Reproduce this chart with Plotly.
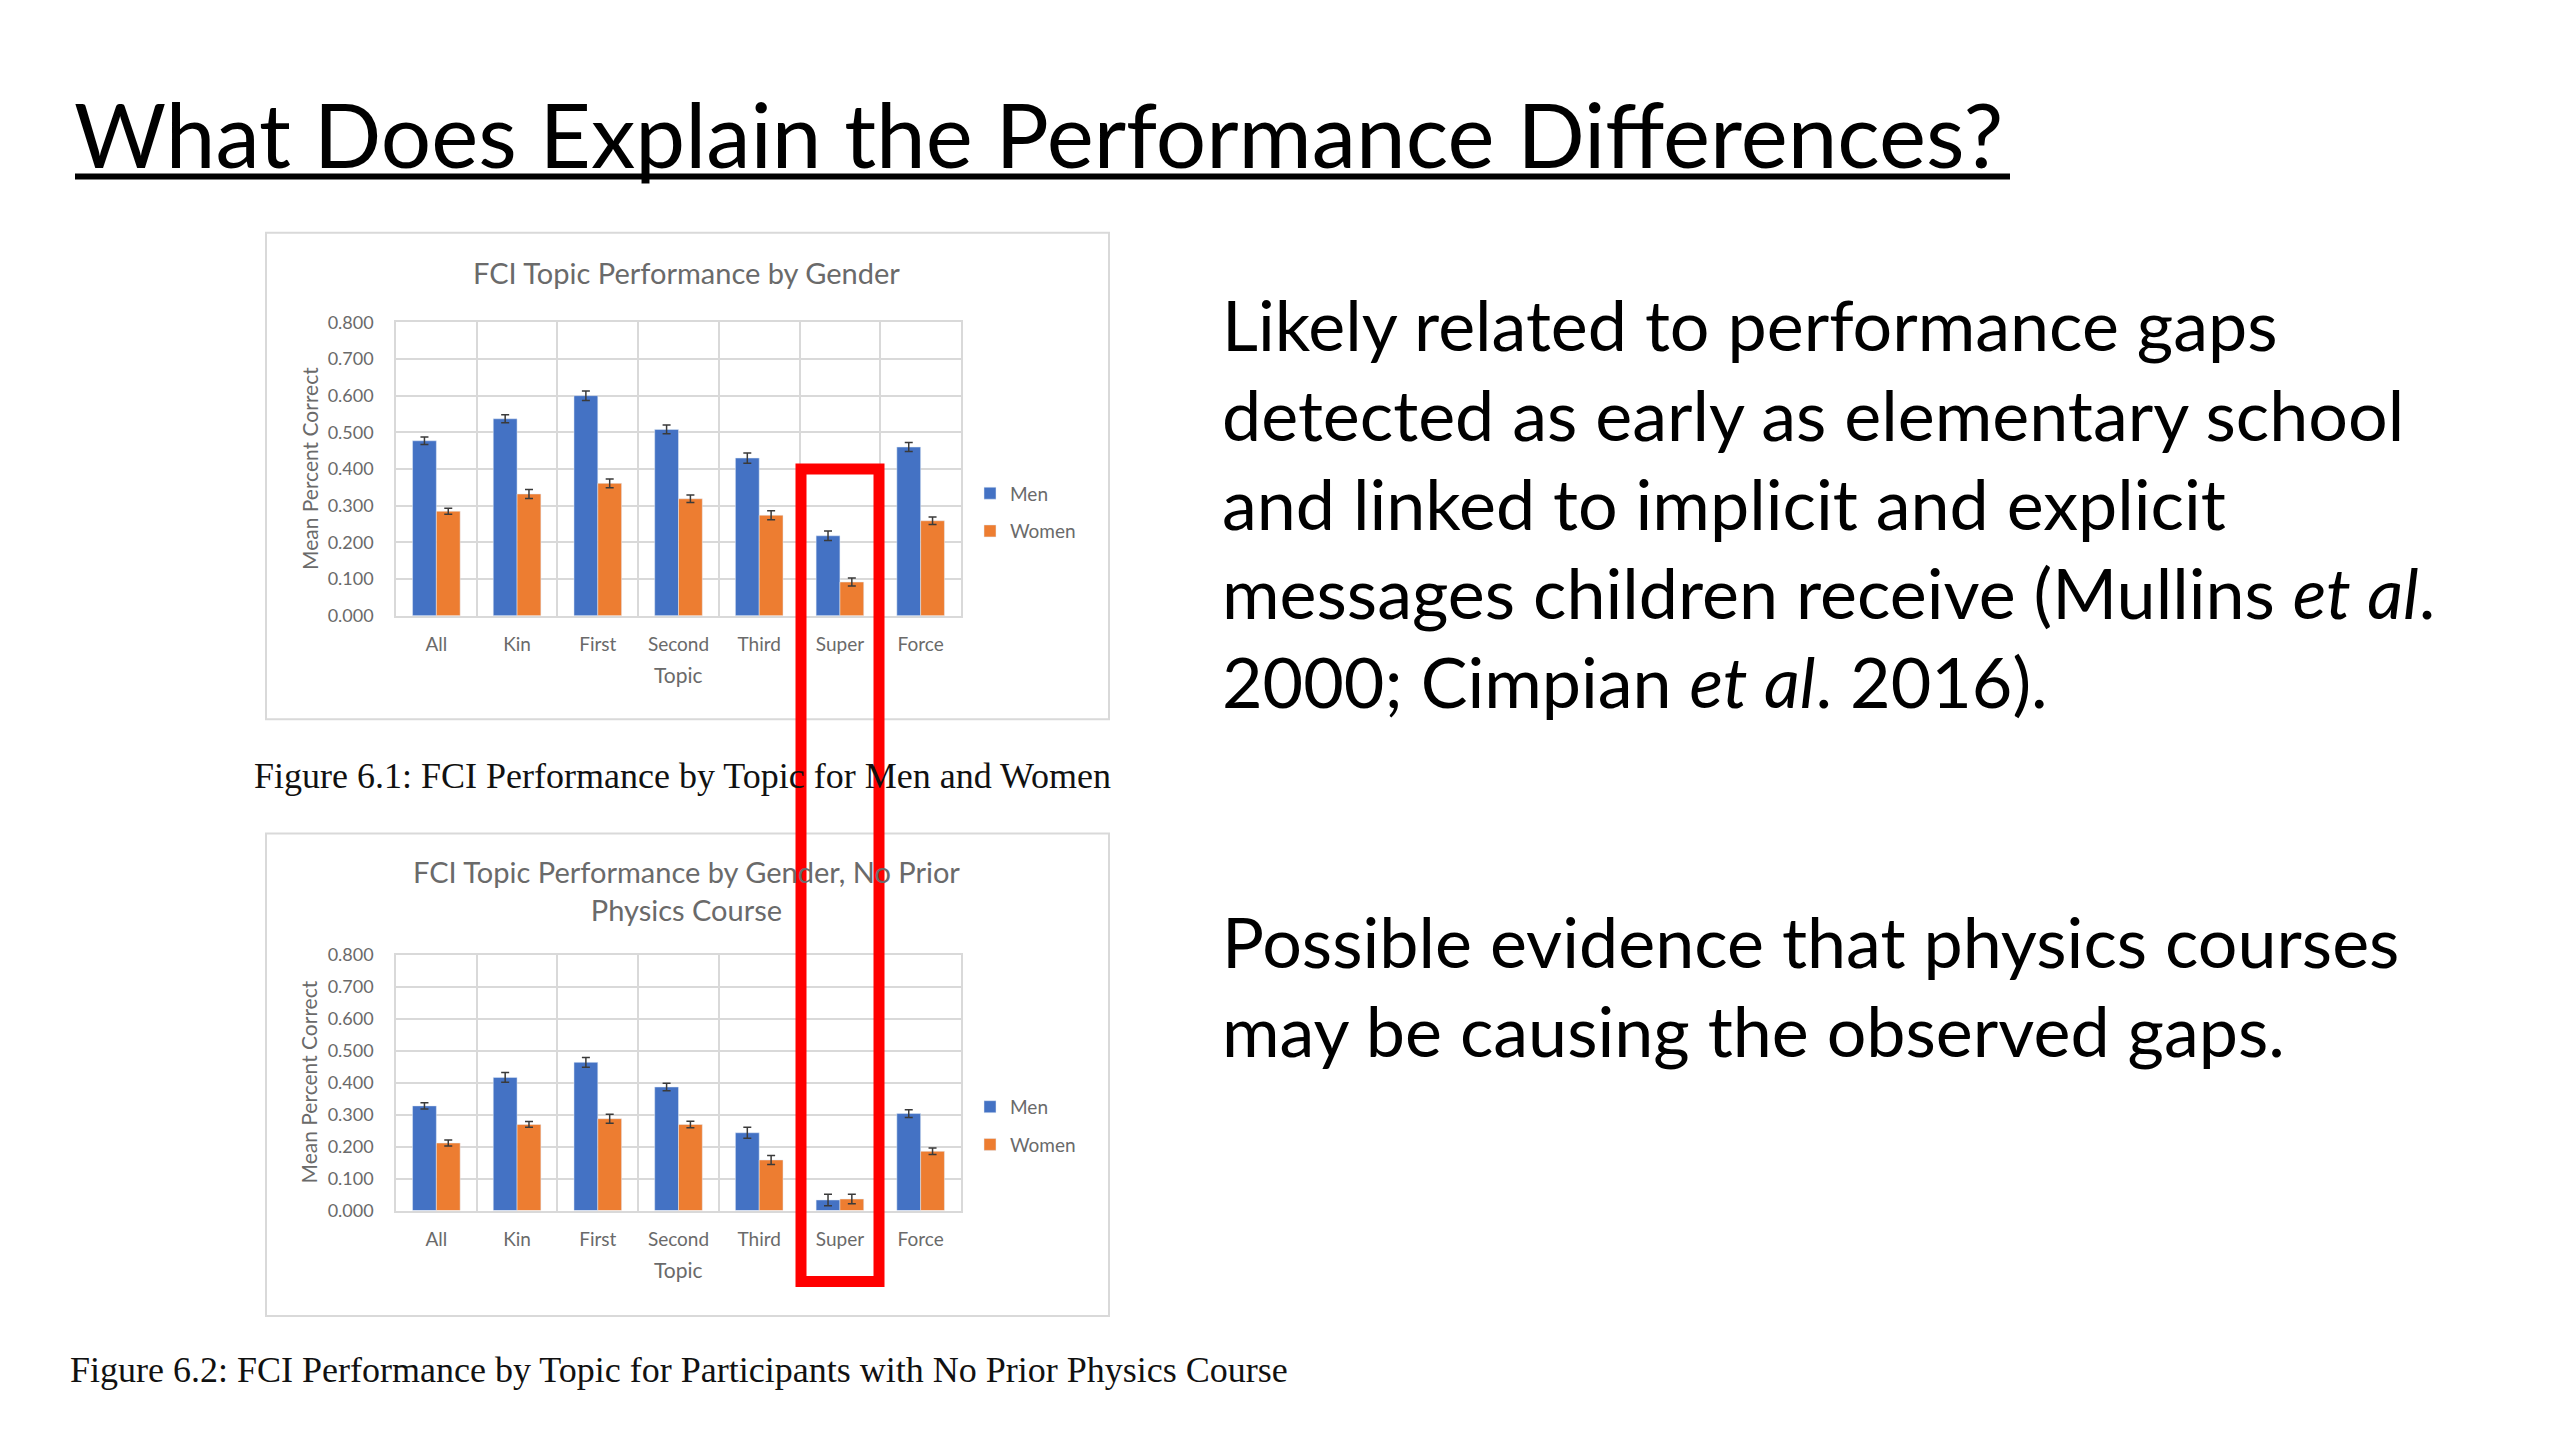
import plotly.graph_objects as go

W, H = 2560, 1440

topics = ["All", "Kin", "First", "Second", "Third", "Super", "Force"]

men_all = [0.477, 0.537, 0.600, 0.508, 0.430, 0.218, 0.460]
men_all_err = [0.010, 0.011, 0.013, 0.012, 0.014, 0.013, 0.012]
women_all = [0.285, 0.332, 0.361, 0.319, 0.274, 0.092, 0.259]
women_all_err = [0.008, 0.012, 0.012, 0.010, 0.012, 0.011, 0.010]

men_noprior = [0.327, 0.416, 0.463, 0.386, 0.243, 0.033, 0.303]
men_noprior_err = [0.010, 0.015, 0.015, 0.012, 0.017, 0.018, 0.012]
women_noprior = [0.211, 0.269, 0.287, 0.269, 0.158, 0.036, 0.185]
women_noprior_err = [0.009, 0.009, 0.014, 0.010, 0.014, 0.015, 0.010]

BLUE = "#4472C4"
ORANGE = "#ED7D31"
GRID = "#D9D9D9"
GRAY_TXT = "#6a6a6a"
SANS = "Lato"


def px(x):
    return x / W


def py(y):
    return 1 - y / H


fig = go.Figure()


def add_pair(men, men_err, women, women_err, xa, ya, legend):
    fig.add_trace(go.Bar(
        x=topics, y=men, name="Men", marker_color=BLUE,
        error_y=dict(type="data", array=men_err, color="#3a3a3a", thickness=1.5, width=4),
        xaxis=xa, yaxis=ya, legend=legend, legendgroup=legend + "m",
    ))
    fig.add_trace(go.Bar(
        x=topics, y=women, name="Women", marker_color=ORANGE,
        error_y=dict(type="data", array=women_err, color="#3a3a3a", thickness=1.5, width=4),
        xaxis=xa, yaxis=ya, legend=legend, legendgroup=legend + "w",
    ))


add_pair(men_all, men_all_err, women_all, women_all_err, "x", "y", "legend")
add_pair(men_noprior, men_noprior_err, women_noprior, women_noprior_err, "x2", "y2", "legend2")

xaxis_style = dict(
    domain=[px(388), px(953)],
    showgrid=True, gridcolor=GRID, gridwidth=1.5, tickson="boundaries",
    showline=True, mirror=True, linecolor=GRID, linewidth=1.5,
    ticks="", ticklabelstandoff=11,
    tickfont=dict(family=SANS, size=19, color=GRAY_TXT),
)
yaxis_style = dict(
    range=[0, 0.8], dtick=0.1, tickformat=".3f",
    showgrid=True, gridcolor=GRID, gridwidth=1.5, zeroline=False,
    showline=True, mirror=True, linecolor=GRID, linewidth=1.5,
    ticks="", ticklabelstandoff=17,
    tickfont=dict(family=SANS, size=18, color=GRAY_TXT),
)

legend_style = dict(
    font=dict(family=SANS, size=19, color=GRAY_TXT),
    bgcolor="rgba(0,0,0,0)", borderwidth=0, tracegroupgap=10,
    xanchor="left", yanchor="middle", itemclick=False,
)

fig.update_layout(
    width=W, height=H,
    margin=dict(l=0, r=0, t=0, b=0),
    paper_bgcolor="white", plot_bgcolor="white",
    barmode="group", bargap=0.41, bargroupgap=0,
    showlegend=True,
    xaxis=dict(anchor="y", **xaxis_style),
    yaxis=dict(anchor="x", domain=[py(605), py(307)], **yaxis_style),
    xaxis2=dict(anchor="y2", **xaxis_style),
    yaxis2=dict(anchor="x2", domain=[py(1209), py(949)], **yaxis_style),
    legend=dict(x=px(962), y=py(500), **legend_style),
    legend2=dict(x=px(962), y=py(1123), **legend_style),
)

# chart frames
for top, bottom in [(216, 710), (826, 1316)]:
    fig.add_shape(type="rect", xref="paper", yref="paper",
                  x0=px(258), x1=px(1101), y0=py(bottom), y1=py(top),
                  line=dict(color="#D9D9D9", width=2), layer="below")


def note(text, x, y, size, color="black", family=SANS, xanchor="left", angle=0):
    fig.add_annotation(text=text, x=px(x), y=py(y), xref="paper", yref="paper",
                       xanchor=xanchor, yanchor="middle", showarrow=False,
                       textangle=angle, font=dict(family=family, size=size, color=color))


# slide title
note("What Does Explain the Performance Differences?", 64, 115, 89)
fig.add_shape(type="line", xref="paper", yref="paper",
              x0=px(67), x1=px(2002), y0=py(159), y1=py(159),
              line=dict(color="black", width=6))

# chart titles and axis titles
note("FCI Topic Performance by Gender", 678, 256, 29, GRAY_TXT, xanchor="center")
note("FCI Topic Performance by Gender, No Prior<br>Physics Course", 678, 884, 29, GRAY_TXT, xanchor="center")
for axis_y, mid_y in [(605, 456), (1209, 1079)]:
    note("Topic", 670, axis_y + 60, 21, GRAY_TXT, xanchor="center")
    note("Mean Percent Correct", 301, mid_y, 21, GRAY_TXT, xanchor="center", angle=-90)

# captions
note("Figure 6.1: FCI Performance by Topic for Men and Women", 244, 768, 36, "#111111", "Liberation Serif")
note("Figure 6.2: FCI Performance by Topic for Participants with No Prior Physics Course",
     60, 1371, 36, "#111111", "Liberation Serif")

# body text
body = [
    ("Likely related to performance gaps", 309),
    ("detected as early as elementary school", 400),
    ("and linked to implicit and explicit", 490),
    ("messages children receive (Mullins <i>et al</i>.", 581),
    ("2000; Cimpian <i>et al</i>. 2016).", 671),
    ("Possible evidence that physics courses", 935),
    ("may be causing the observed gaps.", 1026),
]
for line, y in body:
    note(line, 1212, y, 70)

# red highlight box around the "Super" topic
fig.add_shape(type="rect", xref="paper", yref="paper",
              x0=px(793), x1=px(871), y0=py(1281), y1=py(456),
              line=dict(color="#FF0000", width=11), layer="above")

fig.write_html("out.html")
